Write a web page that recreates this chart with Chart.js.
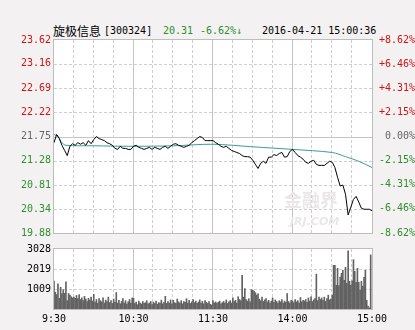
<!DOCTYPE html>
<html>
<head>
<meta charset="utf-8">
<script src="https://cdn.jsdelivr.net/npm/chart.js@4.4.1/dist/chart.umd.min.js"></script>
<style>
  html,body{margin:0;padding:0;}
  body{width:415px;height:330px;overflow:hidden;position:relative;background:#f3f1f1;}
  canvas{position:absolute;left:0;}
  .t{position:absolute;top:24px;height:14px;line-height:14px;white-space:nowrap;font-family:"DejaVu Sans Mono",monospace;font-size:10px;color:#000;}
  .cn{font-family:"Noto Sans CJK SC","Noto Sans",sans-serif;font-size:12px;}
  .g{color:#2f8f2f;}
</style>
</head>
<body>
<div class="t cn" style="left:53px">旋极信息</div>
<div class="t" id="tCode" style="left:104px"></div>
<div class="t g" id="tPrice" style="left:163px"></div>
<div class="t g" id="tPct" style="left:200px"></div>
<div class="t" id="tTime" style="left:262px"></div>
<canvas id="c1" width="415" height="242" style="top:0"></canvas>
<canvas id="c2" width="415" height="90" style="top:240px"></canvas>
<script>
// ---------- data ----------
const titleCode = "[300324]";
const lastPrice = "20.31";
const changePct = "-6.62%↓";
const timestamp = "2016-04-21 15:00:36";
const basePrice = 21.75;
const timeLabels = ["9:30", "10:30", "11:30", "14:00", "15:00"];
const timeTickMinutes = [0, 60, 120, 180, 240];
const priceTicks = [23.62, 23.16, 22.69, 22.22, 21.75, 21.28, 20.81, 20.34, 19.88];
const pctTicks = [8.62, 6.46, 4.31, 2.15, 0, -2.15, -4.31, -6.46, -8.62];
const volumeTicks = [3028, 2019, 1009];
const volumeMax = 3028;
// price sampled every 2 minutes from 9:30 (121 points)
const priceValues = [
  21.63, 21.79, 21.71, 21.58, 21.48, 21.38, 21.56, 21.61, 21.58, 21.63,
  21.60, 21.63, 21.58, 21.67, 21.61, 21.69, 21.75, 21.71, 21.69, 21.67,
  21.63, 21.61, 21.58, 21.52, 21.50, 21.56, 21.52, 21.52, 21.50, 21.50,
  21.56, 21.58, 21.54, 21.52, 21.50, 21.52, 21.54, 21.50, 21.54, 21.52,
  21.50, 21.54, 21.56, 21.52, 21.56, 21.60, 21.61, 21.58, 21.56, 21.54,
  21.56, 21.58, 21.63, 21.67, 21.71, 21.75, 21.73, 21.67, 21.67, 21.67,
  21.67, 21.63, 21.60, 21.56, 21.54, 21.56, 21.52, 21.48, 21.46, 21.44,
  21.42, 21.38, 21.36, 21.36, 21.35, 21.29, 21.21, 21.13, 21.23, 21.27,
  21.23, 21.35, 21.35, 21.40, 21.38, 21.42, 21.44, 21.35, 21.36, 21.46,
  21.50, 21.44, 21.38, 21.35, 21.31, 21.25, 21.23, 21.27, 21.29, 21.21,
  21.19, 21.19, 21.19, 21.23, 21.27, 21.25, 21.15, 20.96, 20.79, 20.81,
  20.63, 20.23, 20.38, 20.53, 20.59, 20.48, 20.36, 20.34, 20.34, 20.34,
  20.31
];
const avgMinutes = [0, 3, 6, 9, 30, 60, 90, 120, 150, 180, 210, 220, 230, 240];
const avgValues  = [21.79, 21.75, 21.63, 21.58, 21.57, 21.56, 21.57, 21.60, 21.55, 21.50, 21.44, 21.36, 21.27, 21.15];
// volume per minute (240 bars)
const volumeValues = [
  1415, 850, 730, 1270, 540, 1100, 780, 980, 790, 1370,
  420, 780, 700, 620, 560, 600, 540, 680, 520, 720,
  480, 560, 420, 640, 500, 380, 540, 450, 600, 400,
  740, 350, 480, 300, 520, 420, 360, 560, 300, 450,
  380, 600, 320, 420, 280, 500, 350, 830, 300, 440,
  260, 380, 520, 300, 420, 250, 360, 480, 300, 560,
  540, 280, 350, 220, 400, 300, 250, 380, 280, 320,
  420, 260, 300, 380, 220, 350, 280, 400, 240, 320,
  300, 450, 260, 340, 640, 280, 380, 300, 460, 260,
  440, 320, 280, 500, 360, 300, 420, 260, 380, 340,
  520, 300, 440, 280, 360, 480, 320, 400, 280, 350,
  460, 300, 380, 260, 420, 340, 280, 380, 240, 200,
  420, 300, 360, 280, 340, 400, 260, 320, 380, 300,
  460, 280, 360, 420, 300, 560, 380, 440, 300, 620,
  480, 420, 1700, 600, 1030, 480, 400, 520, 360, 980,
  940, 900, 820, 700, 760, 500, 420, 600, 380, 460,
  520, 360, 440, 300, 400, 560, 340, 460, 380, 300,
  420, 360, 480, 300, 400, 340, 780, 380, 300, 440,
  400, 320, 480, 360, 420, 300, 580, 360, 440, 400,
  480, 340, 560, 400, 620, 380, 460, 520, 1760, 420,
  600, 480, 560, 440, 600, 380, 520, 700, 460, 500,
  700, 2200, 2200, 1200, 2050, 1180, 1610, 1800, 1950, 1450,
  2100, 1300, 2930, 1400, 1200, 1420, 2490, 1900, 1350, 2050,
  1350, 940, 1400, 1150, 1600, 1950, 440, 150, 60, 2730
];

// ---------- title ----------
document.getElementById('tCode').textContent = titleCode;
document.getElementById('tPrice').textContent = lastPrice;
document.getElementById('tPct').textContent = changePct;
document.getElementById('tTime').textContent = timestamp;

// ---------- styles ----------
const RED = '#d01414', GREEN = '#2f8f2f', GRAY = '#666666';
const TICK_FONT = {family: '"DejaVu Sans Mono", monospace', size: 10};

const framePlugin = {
  id: 'frame',
  beforeDraw(chart) {
    const {ctx, chartArea: a} = chart;
    ctx.save();
    ctx.fillStyle = '#ffffff';
    ctx.fillRect(a.left, a.top, a.right - a.left, a.bottom - a.top);
    ctx.restore();
  },
  beforeDatasetsDraw(chart, args, opts) {
    const {ctx, chartArea: a, scales} = chart;
    const xs = scales.x, ys = scales[opts.yId];
    ctx.save();
    ctx.lineWidth = 1;
    const line = (x1, y1, x2, y2) => { ctx.beginPath(); ctx.moveTo(x1, y1); ctx.lineTo(x2, y2); ctx.stroke(); };
    opts.hValues.forEach(v => {
      const y = Math.round(ys.getPixelForValue(v)) + 0.5;
      const solid = (opts.solidH !== undefined && Math.abs(v - opts.solidH) < 1e-9);
      ctx.strokeStyle = solid ? '#c4c4c4' : '#cfcfcf';
      ctx.setLineDash(solid ? [] : [3, 2]);
      line(a.left, y, a.right, y);
    });
    for (let m = 15; m < 240; m += 15) {
      const x = Math.round(xs.getPixelForValue(m)) - 0.5;
      const solid = (m % 60 === 0);
      ctx.strokeStyle = solid ? '#c4c4c4' : '#cfcfcf';
      ctx.setLineDash(solid ? [] : [3, 2]);
      line(x, a.top, x, a.bottom);
    }
    ctx.setLineDash([]);
    if (opts.watermark) {
      ctx.fillStyle = '#ebe7e7';
      ctx.font = 'bold 18px "Noto Sans CJK SC", sans-serif';
      ctx.textBaseline = 'middle';
      ctx.textAlign = 'left';
      ctx.fillText('金融界', 284, 200);
      ctx.font = 'italic bold 11px "DejaVu Sans", sans-serif';
      ctx.fillText('JRJ.COM', 290, 222);
    }
    ctx.strokeStyle = '#bdbdbd';
    ctx.strokeRect(a.left - 0.5, a.top - 0.5, a.right - a.left + 1, a.bottom - a.top + 1);
    ctx.restore();
  }
};

// ---------- price chart ----------
new Chart(document.getElementById('c1'), {
  type: 'line',
  data: {
    datasets: [
      {
        data: priceValues.map((v, i) => ({x: i * 2, y: v})),
        borderColor: '#000000', borderWidth: 1, pointRadius: 0, tension: 0, yAxisID: 'y'
      },
      {
        data: avgMinutes.map((m, i) => ({x: m, y: avgValues[i]})),
        borderColor: '#3f9a9a', borderWidth: 1, pointRadius: 0, tension: 0.3, yAxisID: 'y'
      }
    ]
  },
  options: {
    responsive: false, animation: false, events: [],
    layout: {padding: {top: 40, bottom: 8, left: 0, right: 0}},
    plugins: {
      legend: {display: false}, tooltip: {enabled: false},
      frame: {yId: 'y', hValues: priceTicks.slice(1, -1), solidH: basePrice, watermark: true}
    },
    scales: {
      x: {type: 'linear', min: 0, max: 240, display: false},
      y: {
        position: 'left', min: 19.88, max: 23.62,
        grid: {display: false, drawTicks: false}, border: {display: false},
        afterBuildTicks: s => { s.ticks = priceTicks.map(v => ({value: v})); },
        afterFit: s => { s.width = 54; },
        ticks: {
          autoSkip: false, padding: 3, font: TICK_FONT,
          callback: v => v.toFixed(2),
          color: c => c.tick.value > basePrice + 1e-6 ? RED : (c.tick.value < basePrice - 1e-6 ? GREEN : GRAY)
        }
      },
      yp: {
        position: 'right', min: -8.62, max: 8.62,
        grid: {display: false, drawTicks: false}, border: {display: false},
        afterBuildTicks: s => { s.ticks = pctTicks.map(v => ({value: v})); },
        afterFit: s => { s.width = 43; },
        ticks: {
          autoSkip: false, padding: 0, crossAlign: 'far', font: TICK_FONT,
          callback: v => (v > 0 ? '+' : '') + v.toFixed(2) + '%',
          color: c => c.tick.value > 0 ? RED : (c.tick.value < 0 ? GREEN : GRAY)
        }
      }
    }
  },
  plugins: [framePlugin]
});

// ---------- volume chart ----------
new Chart(document.getElementById('c2'), {
  type: 'bar',
  data: {
    datasets: [{
      data: volumeValues.map((v, i) => ({x: i, y: v})),
      backgroundColor: '#626262', borderWidth: 0, barThickness: 1
    }]
  },
  options: {
    responsive: false, animation: false, events: [],
    layout: {padding: {top: 7, bottom: 0, left: 0, right: 43}},
    plugins: {
      legend: {display: false}, tooltip: {enabled: false},
      frame: {yId: 'y', hValues: volumeTicks.slice(1), watermark: false}
    },
    scales: {
      x: {
        type: 'linear', min: 0, max: 240, offset: false,
        grid: {display: false, drawTicks: false}, border: {display: false},
        afterBuildTicks: s => { s.ticks = timeTickMinutes.map(v => ({value: v})); },
        afterFit: s => { s.height = 21; },
        ticks: {
          autoSkip: false, maxRotation: 0, padding: 4, font: TICK_FONT, color: '#000',
          callback: v => timeLabels[timeTickMinutes.indexOf(v)]
        }
      },
      y: {
        position: 'left', min: 0, max: volumeMax,
        grid: {display: false, drawTicks: false}, border: {display: false},
        afterBuildTicks: s => { s.ticks = volumeTicks.map(v => ({value: v})); },
        afterFit: s => { s.width = 54; },
        ticks: {autoSkip: false, padding: 3, font: TICK_FONT, color: '#000', callback: v => String(v)}
      }
    }
  },
  plugins: [framePlugin]
});
</script>
</body>
</html>
